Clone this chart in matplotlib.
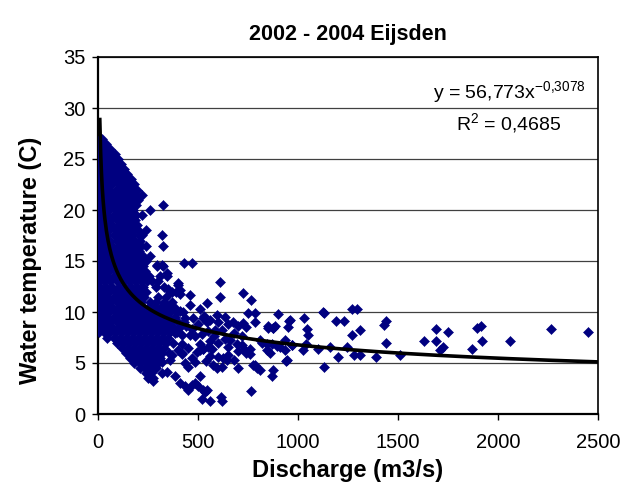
import matplotlib
matplotlib.use('Agg')
import matplotlib.pyplot as plt
import numpy as np

plt.rcParams['font.family'] = ['Liberation Sans', 'DejaVu Sans']
plt.rcParams['mathtext.fontset'] = 'custom'
plt.rcParams['mathtext.rm'] = 'Liberation Sans'
plt.rcParams['mathtext.it'] = 'Liberation Sans'

# dense cloud at low discharge: temperature level -> discharges
blob_t = [27.0, 26.5, 26.0, 25.5, 25.0, 24.5, 24.0, 23.5, 23.0, 22.5, 22.0,
          21.5, 21.0, 20.5, 20.0, 19.5, 19.0, 18.5, 18.0, 17.5, 17.0, 16.5,
          16.0, 15.5, 15.0, 14.5, 14.0, 13.5, 13.0, 12.5, 12.0, 11.5, 11.0,
          10.5, 10.0, 9.5, 9.0, 8.5, 8.0, 7.5, 7.0, 6.5, 6.0, 5.5, 5.0, 4.5,
          4.0, 3.5]
blob_q = [
    [8, 18],
    [5, 25, 40],
    [3, 20, 45, 60],
    [10, 35, 70, 85],
    [2, 22, 50, 80, 100],
    [12, 40, 65, 95, 115],
    [5, 30, 55, 85, 110, 130],
    [15, 45, 75, 100, 125, 145],
    [3, 28, 60, 90, 120, 150, 165],
    [12, 40, 70, 105, 135, 160, 180],
    [5, 30, 55, 90, 120, 150, 175, 195],
    [15, 45, 75, 105, 140, 165, 190, 218],
    [2, 28, 60, 90, 125, 155, 185, 200],
    [12, 40, 70, 105, 135, 165, 190, 323],
    [5, 30, 55, 90, 120, 150, 175, 260],
    [15, 45, 80, 110, 140, 165, 190, 218],
    [3, 28, 60, 95, 125, 155, 185],
    [12, 40, 70, 105, 135, 165, 195],
    [5, 30, 55, 90, 120, 150, 180, 200, 242],
    [15, 45, 80, 110, 140, 170, 205, 218, 318],
    [3, 28, 60, 95, 125, 155, 185, 210],
    [12, 40, 70, 105, 135, 165, 195, 215, 242, 323],
    [5, 30, 55, 90, 120, 150, 180, 205],
    [15, 45, 80, 110, 140, 170, 200, 225, 260],
    [3, 28, 60, 95, 125, 155, 185, 215, 240],
    [12, 40, 70, 105, 135, 165, 195, 225, 293, 327],
    [5, 30, 55, 90, 120, 150, 180, 210, 235],
    [15, 45, 80, 110, 140, 170, 200, 230, 255, 343],
    [3, 28, 60, 95, 125, 155, 185, 215, 245, 270, 302],
    [12, 40, 70, 105, 135, 165, 195, 225, 290, 330],
    [5, 30, 55, 90, 120, 150, 180, 210, 240, 360, 390],
    [15, 45, 80, 110, 140, 170, 200, 230, 300, 340],
    [3, 28, 60, 95, 125, 155, 185, 215, 260, 290, 330, 370],
    [12, 40, 70, 105, 135, 165, 195, 225, 255, 285, 315, 350, 380],
    [5, 30, 55, 90, 120, 150, 180, 210, 240, 270, 300, 330, 360, 395, 425],
    [15, 45, 80, 110, 140, 170, 200, 230, 260, 290, 320, 350, 385],
    [3, 28, 60, 95, 125, 155, 185, 215, 245, 275, 305, 335, 365, 400, 430],
    [12, 40, 70, 105, 135, 165, 195, 225, 255, 285, 315, 345, 375, 410],
    [5, 30, 60, 90, 120, 150, 180, 210, 240, 270, 300, 330, 360, 395],
    [45, 80, 110, 140, 170, 200, 230, 260, 290, 320, 350],
    [95, 125, 155, 185, 215, 245, 275, 305, 340, 375],
    [120, 150, 180, 210, 240, 270, 300, 330],
    [140, 170, 200, 230, 260, 290, 320, 355],
    [160, 190, 220, 250, 280, 310],
    [180, 210, 240, 270, 300],
    [210, 235, 260, 290],
    [240, 265],
    [250, 275],
]

# scattered observations
sparse_q = [432, 468, 610, 610, 727, 765, 543, 402, 410, 460, 460, 410, 510,
            435, 475, 525, 543, 593, 635, 677, 727, 752, 785, 785, 852, 385,
            418, 460, 485, 552, 585, 635, 660, 693, 718, 760, 818, 843, 418,
            402, 510, 527, 552, 418, 493, 510, 602, 627, 643, 435, 452, 577,
            593, 618, 702, 777, 793, 510, 410, 435, 452, 502, 527, 543, 522,
            560, 615, 618, 765, 935, 935, 277, 318, 343, 285, 422, 385, 468,
            485, 535, 360, 368, 485, 527, 568, 318, 293, 318, 343, 310, 352,
            402, 410, 368, 530, 560, 600, 650, 700, 740, 620, 680, 720, 580,
            560, 600, 650, 700, 740, 650, 680, 560, 540, 470, 450, 470, 500,
            440, 520, 852, 877, 960, 810, 843, 910, 968, 735, 760, 943, 785,
            810, 1127,
            902, 877, 885, 868, 897, 860, 873, 868, 940, 957, 952, 968, 1030,
            1043, 1050, 1023, 1040, 1130, 1130, 1100, 1160, 1190, 1230, 1200,
            1243, 1270, 1293, 1270, 1310, 1280, 1310, 1390, 1440, 1430, 1440,
            1510, 1630, 1690, 1690, 1752, 1723, 1710, 1868, 1893, 1913, 1922,
            2060, 2263, 2452]
sparse_t = [14.8, 14.8, 12.9, 11.5, 11.9, 11.2, 10.9, 12.6, 11.8, 11.7, 10.7,
            10.1, 10.3, 9.4, 9.4, 9.4, 9.0, 9.7, 9.5, 9.0, 8.9, 9.9, 9.9, 9.0,
            8.6, 7.9, 7.7, 7.7, 7.6, 8.1, 8.2, 7.4, 7.3, 6.9, 6.8, 6.4, 7.0,
            6.3, 6.9, 6.3, 6.9, 6.4, 6.6, 5.9, 6.1, 6.3, 5.6, 5.5, 5.3, 5.0,
            4.6, 4.8, 4.5, 4.6, 4.5, 4.8, 4.5, 3.7, 3.0, 2.7, 2.4, 2.7, 2.4,
            2.4, 1.5, 1.3, 1.7, 1.3, 2.3, 7.3, 6.3, 3.2, 4.0, 4.1, 4.6, 6.0,
            3.7, 2.8, 3.0, 2.2, 5.3, 5.8, 5.1, 6.4, 6.4, 5.1, 14.6, 14.6, 13.8,
            13.5, 12.3, 12.8, 12.2, 12.0, 9.6, 9.2, 9.0, 8.8, 8.6, 8.5, 8.2,
            7.9, 7.6, 7.6, 7.2, 7.0, 6.6, 6.2, 6.0, 5.8, 5.3, 5.7, 5.2, 5.5,
            6.5, 8.3, 8.8, 8.6, 7.8, 8.4, 8.4, 9.2, 7.3, 6.9, 6.6, 6.8, 6.3,
            5.9, 5.3, 4.8, 4.3, 10.0,
            9.8, 8.4, 8.6, 6.9, 6.7, 6.0, 4.3, 3.7, 5.2, 9.1, 8.5, 6.8, 9.4,
            8.3, 7.7, 6.3, 6.9, 9.9, 4.6, 6.4, 6.6, 9.1, 9.1, 5.6, 6.6, 10.3,
            10.3, 7.7, 8.2, 5.8, 5.8, 5.6, 9.1, 8.7, 7.0, 5.8, 7.2, 8.3, 7.2,
            8.0, 6.6, 6.3, 6.4, 8.4, 8.6, 7.2, 7.2, 8.3, 8.0]

# power trend line shown on the chart
coef_a = 56.773
coef_b = -0.3078
r_squared = 0.4685
q_min, q_max = 9, 2500

q = list(sparse_q)
t = list(sparse_t)
for level, row in zip(blob_t, blob_q):
    q += row
    t += [level] * len(row)

fig = plt.figure(figsize=(6.3, 4.94), dpi=100)
ax = fig.add_axes([98 / 630, 80 / 494, 500 / 630, 357 / 494])

ax.plot(q, t, linestyle='none', marker='D', ms=5.3, color='#000080',
        mec='#000080', mew=0.4, zorder=3)

qq = np.linspace(q_min, q_max, 600)
ax.plot(qq, coef_a * qq ** coef_b, color='black', lw=2.6, zorder=4)

ax.set_xlim(0, 2500)
ax.set_ylim(0, 35)
ax.set_xticks(np.arange(0, 2501, 500))
ax.set_yticks(np.arange(0, 36, 5))
ax.yaxis.grid(True, color='#404040', lw=0.9)
ax.set_axisbelow(True)
for s in ax.spines.values():
    s.set_color('black')
    s.set_linewidth(1.2)
ax.spines['left'].set_linewidth(1.6)
ax.spines['bottom'].set_linewidth(1.6)
ax.tick_params(direction='out', length=4, width=1, labelsize=14.5, colors='black', pad=5)
ax.tick_params(axis='x', pad=10)

ax.set_title('2002 - 2004 Eijsden', fontsize=15.5, fontweight='bold', pad=12)
ax.set_xlabel('Discharge (m3/s)', fontsize=17, fontweight='bold', labelpad=5)
ax.set_ylabel('Water temperature (C)', fontsize=17, fontweight='bold')
ax.yaxis.set_label_coords(-0.112, 0.43)

ax.text(2055, 31.6, r'y = 56,773x$^{\mathregular{-0{,}3078}}$', fontsize=14,
        ha='center', va='center')
ax.text(2055, 28.5, 'R$^{\\mathregular{2}}$ = 0,4685', fontsize=14,
        ha='center', va='center')

fig.savefig('out.png', dpi=100)
